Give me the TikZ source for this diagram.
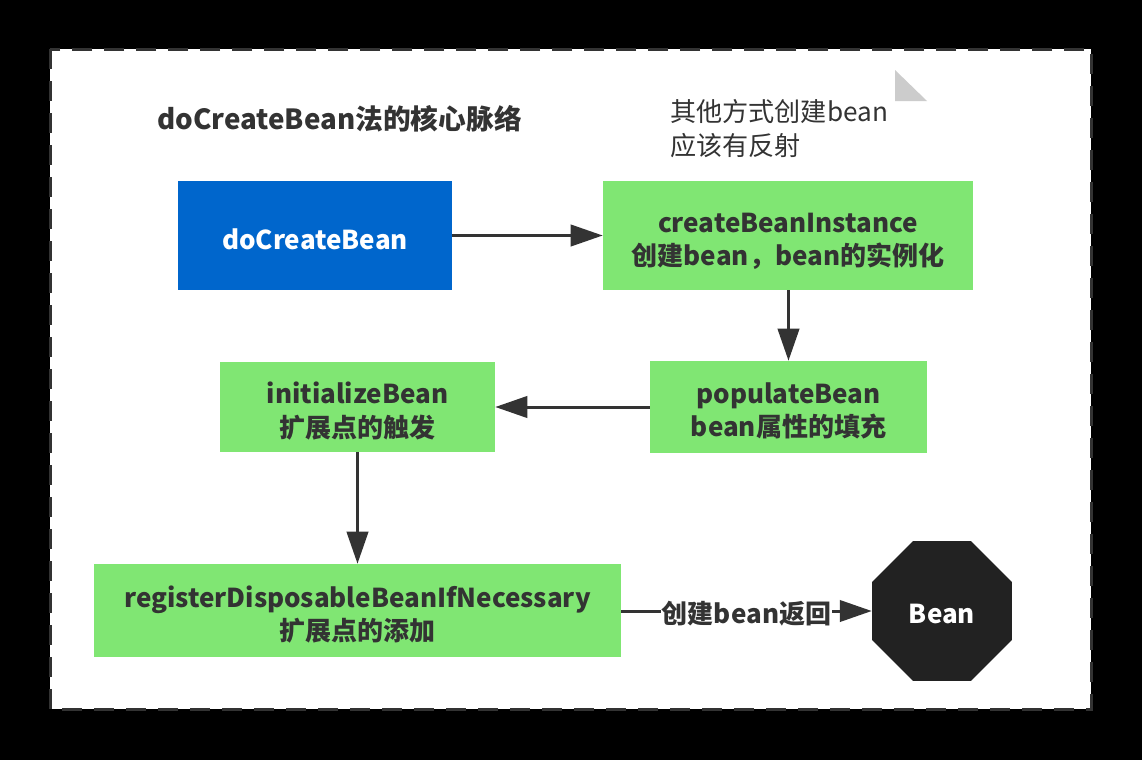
\documentclass[tikz,border=0pt]{standalone}
\usepackage{fontspec}
\setmainfont{Noto Sans CJK SC}
\usetikzlibrary{arrows.meta,shapes.geometric}
\definecolor{boxgreen}{RGB}{128,230,115}
\definecolor{boxblue}{RGB}{0,102,204}
\definecolor{darktext}{RGB}{51,51,51}
\definecolor{octfill}{RGB}{34,34,34}
\definecolor{foldgray}{RGB}{204,204,204}
\tikzset{
  greenbox/.style={fill=boxgreen, inner sep=0pt},
  bluebox/.style={fill=boxblue, inner sep=0pt},
  boxtext/.style={text=darktext, align=center, inner sep=0pt,
    font=\bfseries\fontsize{19.5}{25}\selectfont},
  conn/.style={draw=darktext, line width=2.25pt, -{Triangle[length=24pt,width=16pt]}},
  lbl/.style={fill=white, text=darktext, inner sep=1pt, font=\bfseries\fontsize{19.5}{24}\selectfont}
}
\begin{document}
\begin{tikzpicture}[x=0.75pt,y=-0.75pt]
\useasboundingbox (0,0) rectangle (1142,760);
\fill[black] (0,0) rectangle (1142,760);
\draw[fill=white, draw=darktext, line width=2.25pt, dash pattern=on 15pt off 9pt] (50,49) rectangle (1091,709);
% folded corner
\fill[foldgray] (895,70) -- (895,101) -- (927,101) -- cycle;
% title
\node[anchor=west, text=darktext, inner sep=0pt, font=\bfseries\fontsize{20.8}{25}\selectfont] (title) at (157,118.5) {doCreateBean法的核心脉络};
% note
\node[anchor=west, text=darktext, inner sep=0pt, align=left, font=\fontsize{19.6}{25}\selectfont] (note) at (670,128.5) {其他方式创建bean\\应该有反射};
% boxes
\node[bluebox, minimum width=205.5pt, minimum height=81.75pt] (dcb) at (315,235.5) {};
\node[boxtext, text=white] (dcbt) at ([yshift=-3pt]dcb.center) {doCreateBean};
\node[greenbox, minimum width=277.5pt, minimum height=81.75pt] (cbi) at (788,235.5) {};
\node[boxtext] (cbit) at ([yshift=-4.5pt]cbi.center) {createBeanInstance\\创建bean，bean的实例化};
\node[greenbox, minimum width=207.75pt, minimum height=69pt] (pb) at (788.5,407) {};
\node[boxtext] (pbt) at ([yshift=-3pt]pb.center) {populateBean\\bean属性的填充};
\node[greenbox, minimum width=206.25pt, minimum height=67.5pt] (ib) at (357.5,407) {};
\node[boxtext] (ibt) at ([yshift=-3pt]ib.center) {initializeBean\\扩展点的触发};
\node[greenbox, minimum width=395.25pt, minimum height=69.75pt] (reg) at (357.5,610.5) {};
\node[boxtext] (regt) at ([yshift=-3pt]reg.center) {registerDisposableBeanIfNecessary\\扩展点的添加};
\node[regular polygon, regular polygon sides=8, fill=octfill, inner sep=0pt, minimum size=113.6pt] (bean) at (942,611) {};
\node[boxtext, text=white] (beant) at ([yshift=-2.5pt]bean.center) {Bean};
% connectors
\draw[conn] (dcb.east) -- (dcb.east -| cbi.west);
\draw[conn] (pb.north |- cbi.south) -- (pb.north);
\draw[conn] (pb.west) -- (pb.west -| ib.east);
\draw[conn] (ib.south) -- (ib.south |- reg.north);
\draw[conn] (reg.east |- bean.west) -- node[lbl, yshift=-2pt] {创建bean返回} (bean.west);
\end{tikzpicture}
\end{document}
